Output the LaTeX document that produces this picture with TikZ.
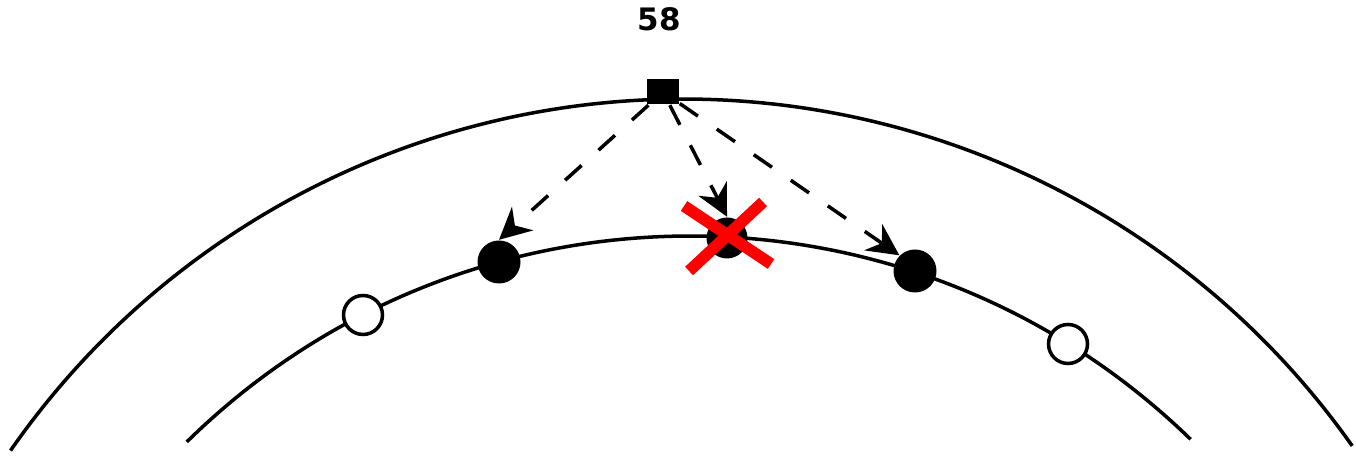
\documentclass[tikz,border=0pt]{standalone}
\usepackage{fontspec}
\setsansfont{DejaVu Sans}
\usetikzlibrary{arrows.meta}

\begin{document}
\begin{tikzpicture}[scale=0.1]
	\tikzstyle{every node}+=[inner sep=0pt]
	\tikzstyle{fulldot}=[circle, fill=black, minimum size=4.3mm]
	\tikzstyle{opendot}=[circle, draw=black, fill=white, line width=1pt, minimum size=3.9mm]
	\tikzstyle{ray}=[black, line width=1pt, dash pattern=on 6.3pt off 6.5pt, -{Stealth[length=9pt,width=9pt]}]
	\useasboundingbox (0,0) rectangle (135.6,-45.8);
	% the two rings
	\draw [black, line width=1pt] (68.3,-91.8) ++(145.2:81.9) arc (145.2:35.2:81.9);
	\draw [black, line width=1pt] (69.0,-95.4) ++(134.5:71.8) arc (134.5:45.8:71.8);
	% sender and label
	\node [rectangle, fill=black, minimum width=3.2mm, minimum height=2.5mm] (src) at (66.3,-9.2) {};
	\node [font=\sffamily\bfseries\fontsize{8.8pt}{10pt}\selectfont] (lbl) at (65.9,-1.9) {58};
	% nodes on the inner ring
	\node [opendot] (o1) at (36.3,-31.5) {};
	\node [fulldot] (n1) at (49.9,-26.2) {};
	\node [fulldot, minimum size=4.1mm] (n2) at (72.7,-23.8) {};
	\node [fulldot] (n3) at (91.5,-27.1) {};
	\node [opendot] (o2) at (106.8,-34.4) {};
	% messages
	\draw [ray] (src) -- (n1.north);
	\draw [ray] (src) -- (n2.north);
	\draw [ray] (src) -- (n3.north west);
	% lost one
	\draw [red, line width=3.3pt] (n2) ++(-4.3,3.2) -- ++(8.7,-5.8);
	\draw [red, line width=3.3pt] (n2) ++(-3.8,-3.3) -- ++(7.4,6.9);
\end{tikzpicture}
\end{document}
